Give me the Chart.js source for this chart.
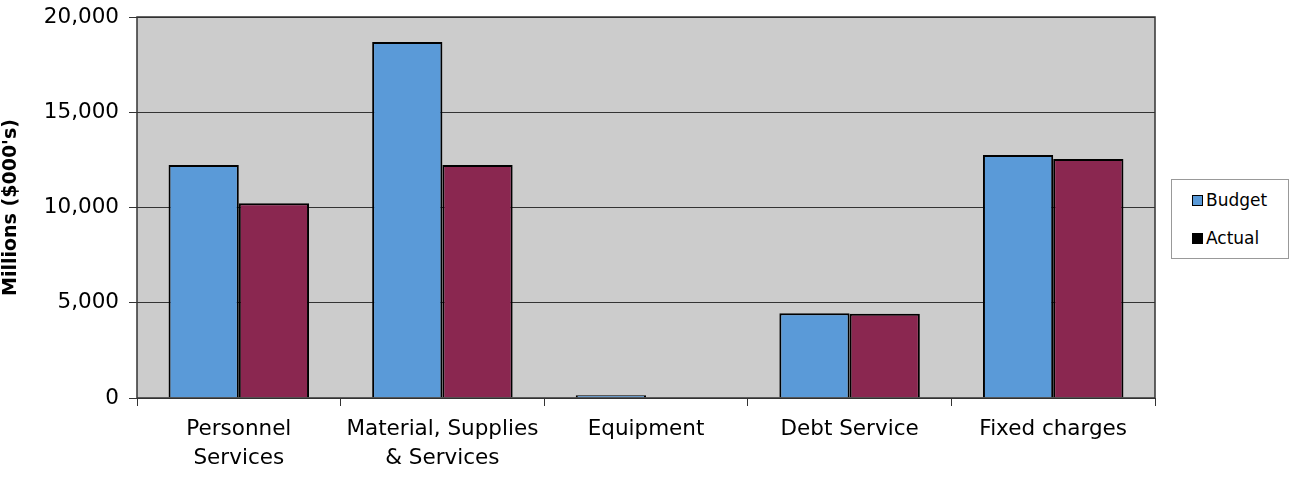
<!DOCTYPE html>
<html>
<head>
<meta charset="utf-8">
<script src="https://cdn.jsdelivr.net/npm/chart.js@4/dist/chart.umd.min.js"></script>
<style>
    html, body { margin: 0; padding: 0; background: #fff; }
    #wrap { position: relative; width: 1291px; height: 477px; }
    #legend {
        position: absolute; left: 1171px; top: 179px; width: 118px; height: 80px;
        box-sizing: border-box; border: 1px solid #999; background: #fff;
        font-family: "DejaVu Sans", sans-serif; font-size: 17px; color: #000;
    }
    .item { position: absolute; left: 20px; display: flex; align-items: center; }
    .swatch { width: 9px; height: 9px; border: 1px solid #000; margin-right: 3px; }
</style>
</head>
<body>
<div id="wrap">
    <canvas id="chart" width="1291" height="477"></canvas>
    <div id="legend">
        <div class="item" style="top:10px"><span class="swatch" style="background:#5a9ad8"></span>Budget</div>
        <div class="item" style="top:48px"><span class="swatch" style="background:#000"></span>Actual</div>
    </div>
</div>
<script>
// Chart data
const categories = [['Personnel', 'Services'], ['Material, Supplies', '& Services'], 'Equipment', 'Debt Service', 'Fixed charges'];
const budget = [12230, 18690, 150, 4450, 12750];
const actual = [10220, 12230, 30, 4420, 12550];
const yTicks = [0, 5000, 10000, 15000, 20000];

// Fill the plot area grey and box it
const plotFrame = {
    id: 'plotFrame',
    beforeDraw(chart) {
        const { ctx, chartArea: a } = chart;
        ctx.save();
        ctx.fillStyle = '#cccccc';
        ctx.fillRect(a.left, a.top, a.right - a.left, a.bottom - a.top);
        ctx.restore();
    },
    afterDraw(chart) {
        const { ctx, chartArea: a } = chart;
        ctx.save();
        ctx.strokeStyle = '#333';
        ctx.lineWidth = 1.5;
        ctx.strokeRect(a.left, a.top, a.right - a.left, a.bottom - a.top);
        ctx.restore();
    }
};

const family = '"DejaVu Sans", sans-serif';

new Chart(document.getElementById('chart'), {
    type: 'bar',
    data: {
        labels: categories,
        datasets: [{
            label: 'Budget',
            data: budget,
            backgroundColor: '#5a9ad8',
            borderColor: '#000',
            borderWidth: 2,
            borderSkipped: 'bottom'
        }, {
            label: 'Actual',
            data: actual,
            backgroundColor: '#8a2750',
            borderColor: '#000',
            borderWidth: 2,
            borderSkipped: 'bottom'
        }]
    },
    options: {
        responsive: false,
        animation: false,
        layout: { padding: { top: 17, right: 136, left: 0, bottom: 0 } },
        plugins: { legend: { display: false }, tooltip: { enabled: false } },
        datasets: { bar: { categoryPercentage: 0.69, barPercentage: 1 } },
        scales: {
            x: {
                grid: { display: true, drawOnChartArea: false, offset: true, color: '#333', tickLength: 8 },
                border: { display: false },
                ticks: { color: '#000', font: { family, size: 21.5, lineHeight: 1.35 }, maxRotation: 0, padding: 9 },
                afterFit(scale) { scale.height = 79; scale.paddingLeft = 0; scale.paddingRight = 0; }
            },
            y: {
                min: 0,
                max: 20000,
                afterBuildTicks(scale) { scale.ticks = yTicks.map(v => ({ value: v })); },
                grid: { color: '#333', lineWidth: 1, tickLength: 8 },
                border: { display: false },
                ticks: {
                    color: '#000', font: { family, size: 21.5 }, padding: 10,
                    callback: v => v.toLocaleString('en-US')
                },
                title: {
                    display: true,
                    text: "Millions ($000's)",
                    color: '#000',
                    font: { family, size: 19, weight: 'bold' },
                    padding: 0
                },
                afterFit(scale) { scale.width = 137; scale.paddingTop = 0; scale.paddingBottom = 0; }
            }
        }
    },
    plugins: [plotFrame]
});
</script>
</body>
</html>
